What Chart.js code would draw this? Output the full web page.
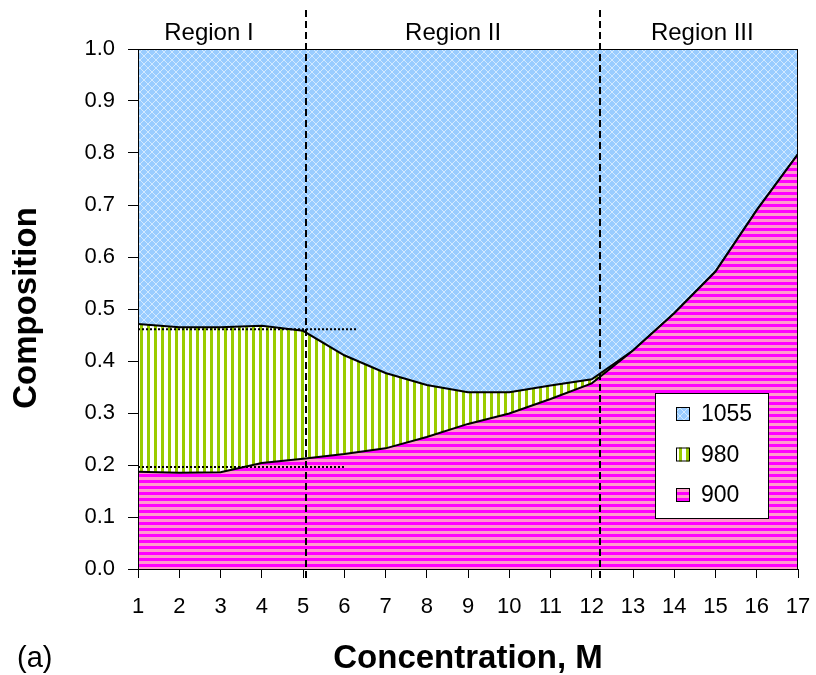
<!DOCTYPE html>
<html>
<head>
<meta charset="utf-8">
<script src="https://cdn.jsdelivr.net/npm/chart.js@4.4.0/dist/chart.umd.min.js"></script>
<style>
html,body{margin:0;padding:0;background:#fff;}
#wrap{width:816px;height:675px;}
</style>
</head>
<body>
<div id="wrap"><canvas id="c" width="816" height="675"></canvas></div>
<script>
// ---- data ----
const concentrations = [1,2,3,4,5,6,7,8,9,10,11,12,13,14,15,16,17];
const c900  = [0.187,0.185,0.186,0.204,0.212,0.221,0.232,0.254,0.279,0.299,0.327,0.357,0.420,0.492,0.572,0.690,0.798];
const c980  = [0.284,0.280,0.279,0.264,0.246,0.190,0.145,0.100,0.061,0.041,0.026,0.008,0,0,0,0,0];
const c1055 = [0.529,0.535,0.535,0.532,0.542,0.589,0.623,0.646,0.660,0.660,0.647,0.635,0.580,0.508,0.428,0.310,0.202];
const seriesLabels = ['900','980','1055'];
const yTickValues = [0,0.1,0.2,0.3,0.4,0.5,0.6,0.7,0.8,0.9,1.0];
const xTickValues = concentrations;
const regionBounds = [5.07, 12.2];
const regionNames = ['Region I','Region II','Region III'];
const regionLabelX = [2.72, 8.64, 14.68];
const refLineY = [0.461, 0.196];
const refLineStartX = [1, 1];
const refLineEndX = [6.3, 6.04];

// ---- patterns ----
function makeTile(w,h,draw){const t=document.createElement('canvas');t.width=w;t.height=h;const g=t.getContext('2d');draw(g);return t;}
const ctxMain = document.getElementById('c').getContext('2d');
const bluePat = ctxMain.createPattern(makeTile(8,8,g=>{
  g.fillStyle='#99CCFF';g.fillRect(0,0,8,8);
  g.fillStyle='#D2E9FF';
  for(let i=0;i<8;i++){g.fillRect(i,i,1,1);g.fillRect(7-i,i,1,1);}
}),'repeat');
const greenPat = ctxMain.createPattern(makeTile(7,1,g=>{
  g.fillStyle='#FFFFFF';g.fillRect(0,0,7,1);
  g.fillStyle='#99CC00';g.fillRect(0,0,3,1);
}),'repeat');
const pinkPat = ctxMain.createPattern(makeTile(1,6,g=>{
  g.fillStyle='#FF99CC';g.fillRect(0,0,1,6);
  g.fillStyle='#FF00FF';g.fillRect(0,0,1,3);
}),'repeat');
const patterns = [pinkPat, greenPat, bluePat];

const toXY = arr => arr.map((v,i)=>({x:concentrations[i], y:v}));

const datasets = [];
refLineY.forEach((yv,i)=>{
  datasets.push({label:'ref'+i, data:[{x:refLineStartX[i],y:yv},{x:refLineEndX[i],y:yv}],
    stack:'ref'+i, fill:false, borderColor:'#000', borderWidth:2, borderDash:[2,2], pointRadius:0, isRef:true});
});
[c900,c980,c1055].forEach((arr,i)=>{
  datasets.push({label:seriesLabels[i], data:toXY(arr), stack:'main',
    fill: i===0 ? 'origin' : '-1', backgroundColor:patterns[i],
    borderColor:'#000', borderWidth: i===2 ? 0 : 2, pointRadius:0, tension:0});
});

const FONT = '"Liberation Sans", Arial, sans-serif';

const extras = {
  id:'extras',
  afterDatasetsDraw(chart){
    const {ctx, chartArea:a, scales:{x,y}} = chart;
    ctx.save();
    // frame
    ctx.strokeStyle='#000';ctx.lineWidth=1;
    ctx.strokeRect(a.left+0.5,a.top+0.5,a.right-a.left-1,a.bottom-a.top);
    // region boundaries
    ctx.lineWidth=2;ctx.setLineDash([7,4]);
    regionBounds.forEach(b=>{const px=Math.round(x.getPixelForValue(b));ctx.beginPath();ctx.moveTo(px,10);ctx.lineTo(px,582);ctx.stroke();});
    ctx.setLineDash([]);
    // region labels
    ctx.fillStyle='#000';ctx.font='24px '+FONT;ctx.textAlign='center';ctx.textBaseline='alphabetic';
    regionNames.forEach((n,i)=>ctx.fillText(n, x.getPixelForValue(regionLabelX[i]), 40));
    // legend
    const lx=655, ly=393, lw=113, lh=125;
    ctx.fillStyle='#fff';ctx.fillRect(lx,ly,lw,lh);
    ctx.strokeStyle='#000';ctx.lineWidth=1;ctx.strokeRect(lx+0.5,ly+0.5,lw,lh);
    const main = chart.data.datasets.filter(d=>!d.isRef).slice().reverse();
    ctx.font='23px '+FONT;ctx.textAlign='left';ctx.textBaseline='middle';
    main.forEach((d,i)=>{
      const cy = 414 + i*40.5;
      ctx.fillStyle=d.backgroundColor;ctx.fillRect(676,cy-7,14,14);
      ctx.strokeStyle='#000';ctx.strokeRect(676.5,cy-6.5,13,13);
      ctx.fillStyle='#000';ctx.fillText(d.label,701,cy+1);
    });
    // axis titles
    ctx.font='bold 33px '+FONT;ctx.textAlign='center';ctx.textBaseline='alphabetic';
    ctx.fillText('Concentration, M',(a.left+a.right)/2,668);
    ctx.save();ctx.translate(36,308);ctx.rotate(-Math.PI/2);ctx.fillText('Composition',0,0);ctx.restore();
    ctx.font='29px '+FONT;ctx.textAlign='left';
    ctx.fillText('(a)',17,667);
    ctx.restore();
  }
};

new Chart(document.getElementById('c'),{
  type:'line',
  data:{datasets},
  options:{
    responsive:false, animation:false, devicePixelRatio:1,
    layout:{padding:{top:49,right:18,left:0,bottom:0}},
    plugins:{legend:{display:false},tooltip:{enabled:false}},
    elements:{line:{tension:0}},
    scales:{
      x:{type:'linear',min:1,max:17,
        afterBuildTicks:s=>{s.ticks=xTickValues.map(v=>({value:v}));},
        afterFit:s=>{s.height=106;s.paddingLeft=0;s.paddingRight=0;},
        grid:{drawOnChartArea:false,drawTicks:true,tickLength:9,color:'#000'},
        border:{display:true,color:'#000',width:1},
        ticks:{color:'#000',font:{family:FONT,size:22},padding:16,maxRotation:0,autoSkip:false,callback:v=>String(v)}},
      y:{stacked:true,min:0,max:1,
        afterBuildTicks:s=>{s.ticks=yTickValues.map(v=>({value:v}));},
        afterFit:s=>{s.width=138;s.paddingTop=0;s.paddingBottom=0;},
        grid:{drawOnChartArea:false,drawTicks:true,tickLength:10,color:'#000'},
        border:{display:true,color:'#000',width:1},
        ticks:{color:'#000',font:{family:FONT,size:22},padding:13,callback:v=>Number(v).toFixed(1)}}
    }
  },
  plugins:[extras]
});
</script>
</body>
</html>
